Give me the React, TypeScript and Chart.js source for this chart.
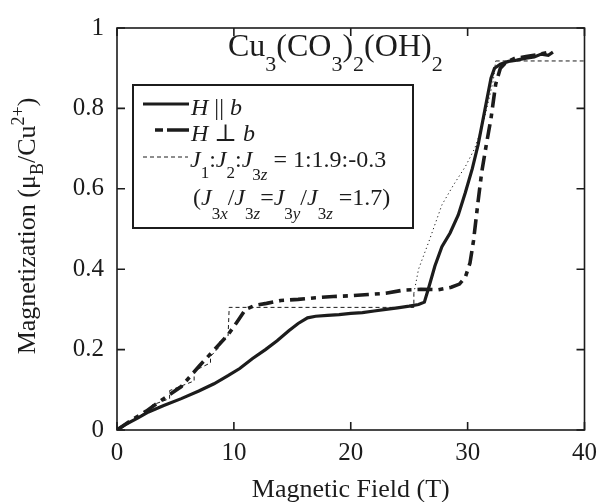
import React, { useEffect, useRef } from "react";
import { Chart, registerables } from "chart.js";

Chart.register(...registerables);

// ---------- data ----------
const fieldPara = [0, 0.8, 1.8, 2.7, 4.0, 5.5, 7.0, 8.3, 9.5, 10.5, 11.6, 12.7, 13.7, 14.7, 15.5, 16.3, 17.0, 18.0, 19.0, 20.0, 21.0, 22.0, 23.0, 24.0, 25.0, 25.8, 26.3, 26.65, 27.2, 27.8, 28.5, 29.2, 29.8, 30.4, 30.9, 31.3, 31.7, 32.0, 32.3, 32.8, 33.5, 34.2, 35.0, 35.7, 36.3, 36.9, 37.3];
const magPara = [0, 0.015, 0.03, 0.045, 0.061, 0.078, 0.097, 0.115, 0.135, 0.153, 0.178, 0.2, 0.222, 0.247, 0.265, 0.279, 0.283, 0.285, 0.287, 0.29, 0.292, 0.296, 0.3, 0.304, 0.308, 0.312, 0.318, 0.352, 0.408, 0.456, 0.49, 0.535, 0.59, 0.65, 0.71, 0.77, 0.83, 0.875, 0.9, 0.91, 0.917, 0.92, 0.925, 0.928, 0.935, 0.932, 0.94];

const fieldPerp = [0, 1.0, 2.5, 4.0, 5.5, 7.0, 8.5, 9.5, 10.3, 11.0, 11.8, 12.8, 14.0, 15.5, 17.0, 18.5, 20.0, 21.5, 23.0, 24.5, 26.0, 27.5, 28.6, 29.3, 29.8, 30.2, 30.5, 30.9, 31.2, 31.6, 32.0, 32.4, 32.8, 33.3, 34.0, 35.0, 36.0, 37.0];
const magPerp = [0, 0.02, 0.047, 0.078, 0.108, 0.158, 0.205, 0.237, 0.27, 0.3, 0.31, 0.315, 0.322, 0.325, 0.329, 0.332, 0.334, 0.337, 0.34, 0.348, 0.35, 0.349, 0.355, 0.363, 0.38, 0.415, 0.47, 0.57, 0.64, 0.71, 0.775, 0.86, 0.9, 0.915, 0.924, 0.929, 0.934, 0.94];

const fieldTheory = [0, 3.0, 3.0, 4.5, 4.5, 6.6, 6.6, 8.0, 8.0, 8.8, 8.8, 9.5, 9.6, 25.4, 25.4, 25.8, 26.7, 27.8, 28.8, 29.8, 30.6, 31.3, 31.8, 32.2, 32.4, 40];
const magTheory = [0, 0.054, 0.062, 0.078, 0.098, 0.122, 0.147, 0.167, 0.183, 0.208, 0.22, 0.232, 0.305, 0.305, 0.34, 0.4, 0.47, 0.56, 0.61, 0.655, 0.7, 0.76, 0.82, 0.87, 0.918, 0.918];

const xTicks = [0, 10, 20, 30, 40];
const yTicks = [0, 0.2, 0.4, 0.6, 0.8, 1];

const titleParts = ["Cu", "3", "(CO", "3", ")", "2", "(OH)", "2"];
const xAxisTitle = "Magnetic Field (T)";
const yAxisParts = ["Magnetization (μ", "B", "/Cu", "2+", ")"];
const legendPara = ["H", " || ", "b"];
const legendPerp = ["H", " ⊥ ", "b"];
const legendTheory1 = "= 1:1.9:-0.3";
const legendTheory2 = "=1.7)";

const SERIF = "'Liberation Serif', 'DejaVu Serif', serif";
const INK = "#1c1c1c";

type Seg = { t: string; italic?: boolean; shift?: number; size?: number };

function drawRich(ctx: CanvasRenderingContext2D, segs: Seg[], x: number, y: number, base: number) {
  let cx = x;
  for (const s of segs) {
    const size = s.size ?? base;
    ctx.font = `${s.italic ? "italic " : ""}${size}px ${SERIF}`;
    ctx.fillText(s.t, cx, y + (s.shift ?? 0));
    cx += ctx.measureText(s.t).width;
  }
  return cx - x;
}

function richWidth(ctx: CanvasRenderingContext2D, segs: Seg[], base: number) {
  let w = 0;
  for (const s of segs) {
    const size = s.size ?? base;
    ctx.font = `${s.italic ? "italic " : ""}${size}px ${SERIF}`;
    w += ctx.measureText(s.t).width;
  }
  return w;
}

const decorPlugin = {
  id: "decor",
  afterDraw(chart: any) {
    const ctx: CanvasRenderingContext2D = chart.ctx;
    const { left, right, top, bottom } = chart.chartArea;
    const xs = chart.scales.x;
    const ys = chart.scales.y;
    ctx.save();
    ctx.strokeStyle = INK;
    ctx.fillStyle = INK;
    // frame
    ctx.lineWidth = 1.6;
    ctx.strokeRect(left, top, right - left, bottom - top);
    // inward ticks
    const tl = 8;
    ctx.beginPath();
    for (const v of xTicks) {
      const px = xs.getPixelForValue(v);
      ctx.moveTo(px, bottom);
      ctx.lineTo(px, bottom - tl);
      ctx.moveTo(px, top);
      ctx.lineTo(px, top + tl);
    }
    for (const v of yTicks) {
      const py = ys.getPixelForValue(v);
      ctx.moveTo(left, py);
      ctx.lineTo(left + tl, py);
      ctx.moveTo(right, py);
      ctx.lineTo(right - tl, py);
    }
    ctx.stroke();

    ctx.textBaseline = "alphabetic";
    ctx.textAlign = "left";
    // title
    const sub = 22;
    drawRich(
      ctx,
      [
        { t: titleParts[0] },
        { t: titleParts[1], size: sub, shift: 15 },
        { t: titleParts[2] },
        { t: titleParts[3], size: sub, shift: 15 },
        { t: titleParts[4] },
        { t: titleParts[5], size: sub, shift: 15 },
        { t: titleParts[6] },
        { t: titleParts[7], size: sub, shift: 15 },
      ],
      228,
      56,
      32
    );

    // x axis title
    ctx.font = `26px ${SERIF}`;
    ctx.textAlign = "center";
    ctx.fillText(xAxisTitle, (left + right) / 2, 497);
    ctx.textAlign = "left";

    // y axis title (rotated)
    const ySegs: Seg[] = [
      { t: yAxisParts[0] },
      { t: yAxisParts[1], size: 18, shift: 8 },
      { t: yAxisParts[2] },
      { t: yAxisParts[3], size: 18, shift: -11 },
      { t: yAxisParts[4] },
    ];
    const yw = richWidth(ctx, ySegs, 26);
    ctx.save();
    ctx.translate(35, 226 + yw / 2);
    ctx.rotate(-Math.PI / 2);
    drawRich(ctx, ySegs, 0, 0, 26);
    ctx.restore();

    // legend box
    ctx.lineWidth = 2;
    ctx.strokeRect(133, 85, 280, 143);
    // samples
    ctx.lineWidth = 3.2;
    ctx.beginPath();
    ctx.moveTo(143, 104);
    ctx.lineTo(189, 104);
    ctx.stroke();
    ctx.lineWidth = 3.6;
    ctx.beginPath();
    ctx.moveTo(155, 130);
    ctx.lineTo(163, 130);
    ctx.moveTo(167, 130);
    ctx.lineTo(189, 130);
    ctx.stroke();
    ctx.lineWidth = 1;
    ctx.setLineDash([4, 3]);
    ctx.beginPath();
    ctx.moveTo(143, 157);
    ctx.lineTo(188, 157);
    ctx.stroke();
    ctx.setLineDash([]);

    const lf = 24;
    const ls = 17;
    drawRich(ctx, [{ t: legendPara[0], italic: true }, { t: legendPara[1] }, { t: legendPara[2], italic: true }], 191, 115, lf);
    drawRich(ctx, [{ t: legendPerp[0], italic: true }, { t: legendPerp[1] }, { t: legendPerp[2], italic: true }], 191, 141, lf);
    const s1 = 11;
    drawRich(
      ctx,
      [
        { t: "J", italic: true },
        { t: "1", size: ls, shift: s1 },
        { t: ":" },
        { t: "J", italic: true },
        { t: "2", size: ls, shift: s1 },
        { t: ":" },
        { t: "J", italic: true },
        { t: "3", size: ls, shift: s1 + 2 },
        { t: "z", size: ls, shift: s1 + 2, italic: true },
        { t: " " + legendTheory1 },
      ],
      190,
      167,
      lf
    );
    const s2 = 14;
    drawRich(
      ctx,
      [
        { t: "(" },
        { t: "J", italic: true },
        { t: "3", size: ls, shift: s2 },
        { t: "x", size: ls, shift: s2, italic: true },
        { t: "/" },
        { t: "J", italic: true },
        { t: "3", size: ls, shift: s2 },
        { t: "z", size: ls, shift: s2, italic: true },
        { t: "=" },
        { t: "J", italic: true },
        { t: "3", size: ls, shift: s2 },
        { t: "y", size: ls, shift: s2, italic: true },
        { t: "/" },
        { t: "J", italic: true },
        { t: "3", size: ls, shift: s2 },
        { t: "z", size: ls, shift: s2, italic: true },
        { t: " " + legendTheory2 },
      ],
      193,
      205,
      lf
    );
    ctx.restore();
  },
};

function pts(xs: number[], ys: number[]) {
  return xs.map((x, i) => ({ x, y: ys[i] }));
}

export default function App() {
  const ref = useRef<HTMLCanvasElement | null>(null);
  useEffect(() => {
    if (!ref.current) return;
    const chart = new Chart(ref.current, {
      type: "scatter",
      data: {
        datasets: [
          {
            label: "theory",
            data: pts(fieldTheory, magTheory),
            showLine: true,
            borderColor: INK,
            borderWidth: 1,
            pointRadius: 0,
            borderDash: [4, 3],
            segment: {
              borderDash: (c: any) => (c.p0.parsed.x >= 25.4 && c.p1.parsed.x <= 32.4 && c.p1.parsed.y > 0.34 ? [1.2, 3] : [4, 3]),
            },
          },
          {
            label: "H perp b",
            data: pts(fieldPerp, magPerp),
            showLine: true,
            borderColor: INK,
            borderWidth: 3.6,
            pointRadius: 0,
            borderDash: [15, 6, 5, 6],
          },
          {
            label: "H || b",
            data: pts(fieldPara, magPara),
            showLine: true,
            borderColor: INK,
            borderWidth: 3.2,
            pointRadius: 0,
          },
        ],
      },
      options: {
        animation: false,
        responsive: false,
        devicePixelRatio: 1,
        layout: { padding: { left: 0, top: 21, right: 13, bottom: 0 } },
        plugins: { legend: { display: false }, tooltip: { enabled: false }, title: { display: false } },
        scales: {
          x: {
            type: "linear",
            min: 0,
            max: 40,
            grid: { display: false, drawTicks: false },
            border: { display: false },
            afterFit: (s: any) => {
              s.height = 72;
            },
            afterBuildTicks: (s: any) => {
              s.ticks = xTicks.map((v) => ({ value: v }));
            },
            ticks: {
              color: INK,
              font: { family: SERIF, size: 25 },
              padding: 8,
              maxRotation: 0,
              autoSkip: false,
              callback: (v: any) => String(v),
            },
          },
          y: {
            type: "linear",
            min: 0,
            max: 1,
            grid: { display: false, drawTicks: false },
            border: { display: false },
            afterFit: (s: any) => {
              s.width = 117;
            },
            afterBuildTicks: (s: any) => {
              s.ticks = yTicks.map((v) => ({ value: v }));
            },
            ticks: {
              color: INK,
              font: { family: SERIF, size: 25 },
              padding: 13,
              autoSkip: false,
              callback: (v: any) => (v === 0 ? "0" : v === 1 ? "1" : Number(v).toFixed(1)),
            },
          },
        },
      },
      plugins: [decorPlugin],
    });
    return () => chart.destroy();
  }, []);
  return (
    <div style={{ position: "fixed", left: 0, top: 0, width: 605, height: 502, background: "#fff" }}>
      <canvas ref={ref} width={605} height={502} style={{ width: 605, height: 502 }} />
    </div>
  );
}
